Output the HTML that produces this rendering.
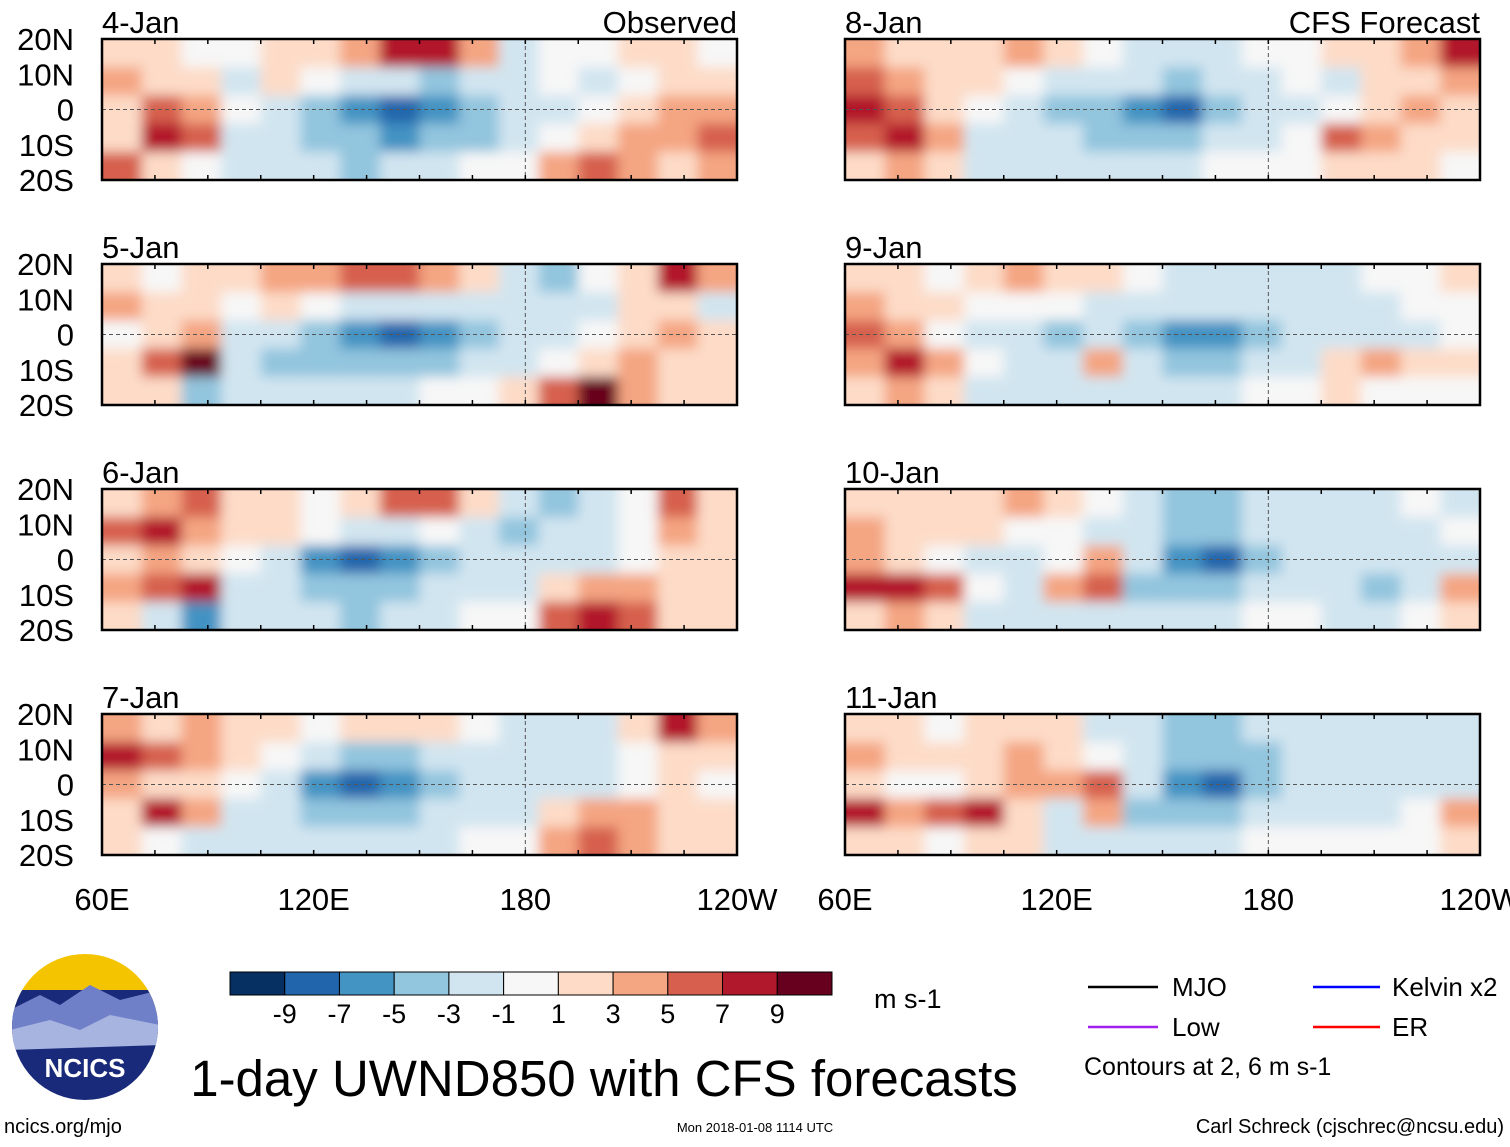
<!DOCTYPE html>
<html><head><meta charset="utf-8">
<style>
body{margin:0;background:#fff;width:1510px;height:1142px;overflow:hidden;font-family:"Liberation Sans",sans-serif;}
svg text{font-family:"Liberation Sans",sans-serif;}
</style></head>
<body>
<svg id="chart" width="1510" height="1142" viewBox="0 0 1510 1142" xmlns="http://www.w3.org/2000/svg">
<defs><filter id="blur" x="-5%" y="-10%" width="110%" height="120%"><feGaussianBlur stdDeviation="6"/></filter></defs>
<g id="panels"></g>
<g id="legend"></g>
</svg>
<script>
const panelLabels=["4-Jan","5-Jan","6-Jan","7-Jan","8-Jan","9-Jan","10-Jan","11-Jan"];
const latTicks=["20N","10N","0","10S","20S"];
const lonTicks=["60E","120E","180","120W"];
const colorTicks=["-9","-7","-5","-3","-1","1","3","5","7","9"];
const binColors=["#053061","#2166ac","#4393c3","#92c5de","#d1e5f0","#f7f7f7","#fddbc7","#f4a582","#d6604d","#b2182b","#67001f"];
const grid4Jan=[[2,1,0,-1,2,1,4,7,8,3,-2,0,-1,1,2,0],[4,2,1,-2,1,0,-2,-3,-4,-3,-2,-1,-2,0,1,2],[2,5,3,0,-2,-4,-6,-8,-7,-5,-3,-2,-1,1,3,4],[1,8,6,-2,-3,-4,-5,-6,-5,-4,-3,-1,1,3,4,5],[5,2,0,-3,-2,-3,-4,-3,-2,-1,0,3,6,3,2,4]];
const grid5Jan=[[1,0,2,1,3,4,5,6,4,1,-2,-4,-1,2,8,3],[3,1,2,0,1,-1,-2,-3,-3,-2,-3,-3,-2,1,2,-2],[0,2,4,-2,-3,-5,-7,-8,-6,-4,-3,-2,-1,2,3,1],[2,6,9,-3,-4,-5,-5,-5,-4,-3,-2,-1,2,4,2,2],[2,1,-4,-3,-2,-3,-3,-2,-1,0,1,6,9,4,1,2]];
const grid6Jan=[[2,3,5,2,1,0,2,5,6,2,-3,-4,-3,-1,6,2],[6,7,4,2,1,-1,-3,-2,-1,-2,-4,-3,-2,-1,3,1],[2,3,2,0,-2,-6,-8,-7,-5,-3,-3,-3,-2,-1,1,2],[3,6,8,-2,-3,-5,-5,-4,-3,-2,-2,1,3,4,2,1],[1,-2,-6,-3,-2,-3,-4,-3,-2,-1,0,5,8,5,2,1]];
const grid7Jan=[[3,2,3,1,2,0,1,2,1,-1,-3,-2,-2,1,8,3],[7,5,4,1,0,-2,-4,-4,-3,-2,-3,-2,-3,-1,2,1],[3,2,1,-1,-3,-7,-9,-7,-5,-3,-2,-3,-2,-1,1,0],[2,8,3,-2,-3,-4,-4,-4,-3,-2,-2,2,3,3,2,1],[2,-1,-3,-3,-2,-3,-3,-2,-2,-1,0,4,6,4,2,1]];
const grid8Jan=[[4,2,1,2,3,1,-1,-2,-3,-2,-1,0,2,1,3,7],[6,3,2,1,0,-2,-3,-3,-4,-3,-2,-1,-2,1,2,3],[8,5,2,-1,-3,-4,-4,-6,-8,-5,-3,-2,-1,2,3,2],[5,8,3,-2,-3,-3,-4,-4,-4,-3,-2,-1,5,3,2,1],[2,4,1,-2,-2,-3,-3,-2,-2,-1,-1,0,1,2,1,0]];
const grid9Jan=[[2,1,0,2,3,2,1,0,-2,-3,-3,-2,-2,-1,0,1],[4,2,1,0,0,-1,-2,-3,-3,-3,-2,-2,-2,-2,-1,0],[5,3,0,-2,-3,-4,-3,-4,-7,-6,-4,-3,-3,-2,-2,0],[4,7,3,-1,-2,-2,3,-3,-5,-4,-3,-2,2,3,1,2],[2,4,1,-2,-2,-3,-3,-2,-3,-2,-1,0,1,0,-1,0]];
const grid10Jan=[[2,2,1,1,3,1,-1,-2,-4,-4,-3,-3,-2,-2,-1,-3],[3,2,1,2,0,-1,-2,-3,-4,-4,-3,-2,-3,-2,-2,0],[4,2,0,-2,-2,-1,3,-3,-6,-8,-5,-3,-3,-3,-3,-2],[7,8,6,-1,-2,3,6,-4,-5,-4,-3,-2,-3,-4,-2,4],[2,3,1,-2,-2,-3,-2,-3,-2,-2,-1,-1,-2,-2,-1,1]];
const grid11Jan=[[2,1,0,1,2,1,-2,-3,-4,-4,-3,-2,-2,-3,-3,-2],[3,2,1,2,3,2,-1,-3,-5,-5,-4,-3,-2,-3,-2,-2],[2,0,0,2,3,4,5,-2,-7,-8,-5,-3,-3,-3,-3,-2],[7,4,6,8,2,-2,3,-4,-5,-4,-3,-2,-2,-2,-1,4],[2,1,0,2,1,-3,-3,-3,-2,-2,-1,-1,-1,-1,-1,1]];
const grids=[grid4Jan,grid5Jan,grid6Jan,grid7Jan,grid8Jan,grid9Jan,grid10Jan,grid11Jan];

const NS="http://www.w3.org/2000/svg";
function mk(tag,attrs,parent){const e=document.createElementNS(NS,tag);for(const k in attrs)e.setAttribute(k,attrs[k]);parent.appendChild(e);return e;}
function colorFor(v){let i=Math.floor((v+11)/2);return binColors[Math.max(0,Math.min(10,i))];}
const PW=635,PH=141,colX=[102,845],rowY=[39,264,489,714];
const root=document.getElementById('panels');
grids.forEach((g,p)=>{
  const x0=colX[Math.floor(p/4)],y0=rowY[p%4];
  const grp=mk('g',{},root);
  
  
  const cid='clip'+p;
  const cp=mk('clipPath',{id:cid},grp);mk('rect',{x:x0,y:y0,width:PW,height:PH},cp);
  const hm=mk('g',{'clip-path':'url(#'+cid+')'},grp);
  const hb=mk('g',{filter:'url(#blur)'},hm);
  const nR=g.length,nC=g[0].length,cw=PW/nC,ch=PH/nR;
  g.forEach((row,r)=>row.forEach((v,c)=>{
    let x=x0+c*cw,y=y0+r*ch,w=cw+1,h=ch+1;
    if(c===0){x-=20;w+=20;} if(c===nC-1){w+=20;}
    if(r===0){y-=20;h+=20;} if(r===nR-1){h+=20;}
    const cell=mk('rect',{x:x,y:y,width:w,height:h,fill:colorFor(v)},hb);
    
    
  }));
  mk('line',{x1:x0,x2:x0+PW,y1:y0+PH/2,y2:y0+PH/2,stroke:'#555','stroke-dasharray':'4,3','stroke-width':1},grp);
  const x180=x0+PW*(120/180);
  mk('line',{x1:x180,x2:x180,y1:y0,y2:y0+PH,stroke:'#555','stroke-dasharray':'4,3','stroke-width':1},grp);
  mk('rect',{x:x0,y:y0,width:PW,height:PH,fill:'none',stroke:'#000','stroke-width':2.5},grp);
  for(let i=0;i<=12;i++){const tx=x0+PW*i/12;mk('line',{x1:tx,x2:tx,y1:y0,y2:y0+5,stroke:'#000','stroke-width':1.5},grp);mk('line',{x1:tx,x2:tx,y1:y0+PH,y2:y0+PH-5,stroke:'#000','stroke-width':1.5},grp);}
  const lt=mk('text',{x:x0,y:y0-6,'font-size':31},grp);lt.textContent=panelLabels[p];
  
  if(p%4===0){const st=mk('text',{x:x0+PW,y:y0-6,'font-size':31,'text-anchor':'end'},grp);st.textContent=p===0?'Observed':'CFS Forecast';
    }
  if(p<4){latTicks.forEach((t,i)=>{const tt=mk('text',{x:74,y:y0+i*PH/4+11,'font-size':31,'text-anchor':'end'},grp);tt.textContent=t;
    });}
  if(p%4===3){lonTicks.forEach((t,i)=>{const tt=mk('text',{x:x0+i*PW/3,y:910,'font-size':31,'text-anchor':'middle'},grp);tt.textContent=t;
    });}
});
const lg=document.getElementById('legend');
const cb=mk('g',{},lg);
const bw=602/11;
binColors.forEach((c,i)=>{mk('rect',{x:230+i*bw,y:972,width:bw,height:23,fill:c,stroke:'#000','stroke-width':1},cb);});
colorTicks.forEach((t,i)=>{const tt=mk('text',{x:230+(i+1)*bw,y:1023,'font-size':27,'text-anchor':'middle'},cb);tt.textContent=t;
  });
</script>
<svg style="position:absolute;left:0;top:0" width="1510" height="1142">
<g>
<clipPath id="lc"><circle cx="85" cy="1027" r="73"/></clipPath>
<g clip-path="url(#lc)">
<rect x="0" y="950" width="170" height="60" fill="#f5c400"/>
<rect x="0" y="990" width="170" height="120" fill="#1a2a7a"/>
<path d="M10 1010 L40 995 L60 1005 L90 985 L120 1000 L160 990 L160 1040 L10 1045Z" fill="#7080c8"/>
<path d="M10 1030 L50 1020 L80 1030 L110 1015 L160 1025 L160 1045 L10 1050Z" fill="#a8b4e0"/>
</g>
<text x="85" y="1077" font-size="26" font-weight="bold" fill="#fff" text-anchor="middle" font-family="Liberation Sans">NCICS</text>
</g>
<text x="874" y="1008" font-size="27" font-family="Liberation Sans">m s-1</text>
<text x="604" y="1096" font-size="51" text-anchor="middle" font-family="Liberation Sans">1-day UWND850 with CFS forecasts</text>
<g font-family="Liberation Sans" font-size="26">
<line x1="1088" x2="1158" y1="987" y2="987" stroke="#000" stroke-width="2.5"/><text x="1172" y="996">MJO</text>
<line x1="1313" x2="1380" y1="987" y2="987" stroke="#0000ff" stroke-width="2.5"/><text x="1392" y="996">Kelvin x2</text>
<line x1="1088" x2="1158" y1="1027" y2="1027" stroke="#a020f0" stroke-width="2.5"/><text x="1172" y="1036">Low</text>
<line x1="1313" x2="1380" y1="1027" y2="1027" stroke="#ff0000" stroke-width="2.5"/><text x="1392" y="1036">ER</text>
<text x="1084" y="1075" font-size="25">Contours at 2, 6 m s-1</text>
</g>
<text x="4" y="1133" font-size="20" font-family="Liberation Sans">ncics.org/mjo</text>
<text x="755" y="1132" font-size="13" text-anchor="middle" font-family="Liberation Sans">Mon 2018-01-08 1114 UTC</text>
<text x="1504" y="1133" font-size="20" text-anchor="end" font-family="Liberation Sans">Carl Schreck (cjschrec@ncsu.edu)</text>
</svg>
</body></html>
